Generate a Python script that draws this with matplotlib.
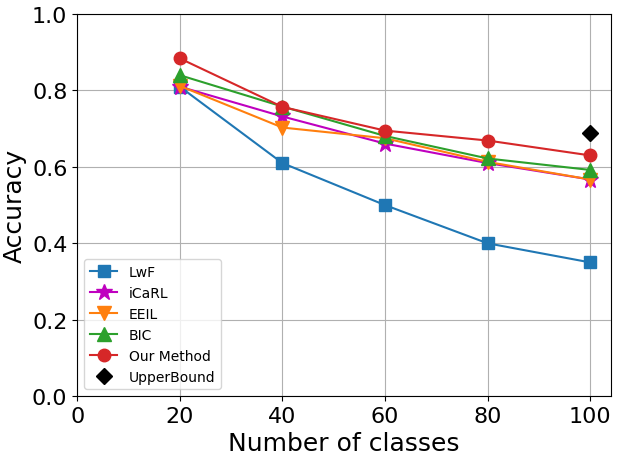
import numpy as np
import matplotlib
matplotlib.use("Agg")
import matplotlib.pyplot as plt

classes = [20, 40, 60, 80, 100]
lwf = [0.81, 0.61, 0.50, 0.40, 0.35]
icarl = [0.81, 0.732, 0.661, 0.61, 0.567]
eeil = [0.812, 0.703, 0.675, 0.613, 0.567]
bic = [0.840, 0.758, 0.681, 0.622, 0.592]
ours = [0.884, 0.757, 0.695, 0.669, 0.630]
upper_x = [100]
upper = [0.69]

fig, ax = plt.subplots(figsize=(6.17, 4.56), dpi=100)
ax.plot(classes, lwf, marker="s", color="tab:blue", markersize=9, label="LwF")
ax.plot(classes, icarl, marker="*", color="m", markersize=12, label="iCaRL")
ax.plot(classes, eeil, marker="v", color="tab:orange", markersize=10, label="EEIL")
ax.plot(classes, bic, marker="^", color="tab:green", markersize=10, label="BIC")
ax.plot(classes, ours, marker="o", color="tab:red", markersize=9, label="Our Method")
ax.plot(upper_x, upper, marker="D", color="k", linestyle="none", markersize=8, label="UpperBound")

ax.set_xlim(0, 104)
ax.set_ylim(0, 1.0)
ax.grid(True)
ax.tick_params(labelsize=16)
ax.set_xlabel("Number of classes", fontsize=18)
ax.set_ylabel("Accuracy", fontsize=18)
ax.legend(fontsize=10, loc="lower left")
fig.subplots_adjust(left=0.125, right=0.99, top=0.967, bottom=0.129)
fig.savefig("out.png")
